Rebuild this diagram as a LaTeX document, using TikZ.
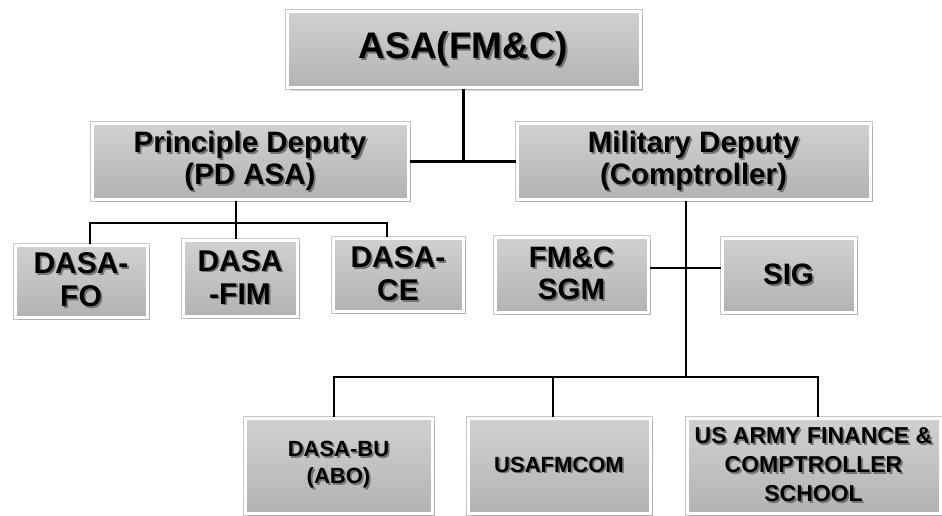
\documentclass[tikz,border=0pt]{standalone}
\usepackage{fontspec}
\setsansfont{Liberation Sans}
\usetikzlibrary{shadows, positioning}

% text with a soft offset shadow
\newcommand{\shdw}[1]{\leavevmode\rlap{\raisebox{-1.8pt}{\hspace{1.8pt}\textcolor{black!55}{#1}}}#1}

\begin{document}
\begin{tikzpicture}[x=1pt, y=-1pt,
      orgbox/.style={rectangle, draw=white, line width=3pt,
          preaction={draw=black!22, line width=5pt},
          top color=black!18, bottom color=black!30,
          drop shadow={shadow xshift=2.5pt, shadow yshift=-3pt, opacity=0.3},
          align=center, inner sep=0pt, text=black},
      topfont/.style={font=\sffamily\bfseries\fontsize{37}{40}\selectfont},
      deputyfont/.style={font=\sffamily\bfseries\fontsize{29.5}{32}\selectfont},
      dasafont/.style={font=\sffamily\bfseries\fontsize{30}{33}\selectfont},
      lowfont/.style={font=\sffamily\bfseries\fontsize{22}{27}\selectfont},
      link/.style={line width=2.2pt, black}]
    \useasboundingbox (0,0) rectangle (942,516);

    % top
    \node[orgbox, topfont, minimum width=353, minimum height=76] (asa)
      at (463.5,50) {\shdw{ASA(FM\&C)}};

    % deputies
    \node[orgbox, deputyfont, minimum width=316, minimum height=75] (pd)
      at (250,161.5) {\shdw{Principle Deputy}\\ \shdw{(PD ASA)}};
    \node[orgbox, deputyfont, minimum width=353, minimum height=75] (md)
      at (693.5,161.5) {\shdw{Military Deputy}\\ \shdw{(Comptroller)}};

    % under the principle deputy
    \node[orgbox, dasafont, minimum width=132, minimum height=72] (dfo)
      at (81,281) {\shdw{DASA-}\\ \shdw{FO}};
    \node[orgbox, dasafont, minimum width=114, minimum height=76] (dfim)
      at (240,278) {\shdw{DASA}\\ \shdw{-FIM}};
    \node[orgbox, dasafont, minimum width=130, minimum height=73] (dce)
      at (398,274.5) {\shdw{DASA-}\\ \shdw{CE}};

    % under the military deputy
    \node[orgbox, deputyfont, minimum width=153, minimum height=75] (sgm)
      at (571.5,274.5) {\shdw{FM\&C}\\ \shdw{SGM}};
    \node[orgbox, deputyfont, minimum width=133, minimum height=74] (sig)
      at (788.5,275) {\shdw{SIG}};

    \node[orgbox, lowfont, minimum width=187, minimum height=95] (dbu)
      at (338.5,465.5) {\shdw{DASA-BU}\\ \shdw{(ABO)}};
    \node[orgbox, lowfont, minimum width=182, minimum height=95] (usaf)
      at (559,465.5) {\shdw{USAFMCOM}};
    \node[orgbox, lowfont, font=\sffamily\bfseries\fontsize{23}{29}\selectfont,
          minimum width=253, minimum height=95] (school)
      at (813.5,465.5) {\shdw{US ARMY FINANCE \&}\\ \shdw{COMPTROLLER}\\ \shdw{SCHOOL}};

    % connectors
    \draw[link] (pd.east) -- (md.west);
    \draw[link] (asa.south) -- (asa.south |- pd.east);

    \coordinate (pdbus) at (236,223);
    \coordinate (pdbusl) at (90,223);
    \coordinate (pdbusr) at (387,223);
    \draw[link] (pdbus |- pd.south) -- (pdbus |- dfim.north);
    \draw[link] (pdbusl |- dfo.north) -- (pdbusl) -- (pdbusr) -- (pdbusr |- dce.north);

    \coordinate (mdmid) at (686,268);
    \coordinate (mdbus) at (686,377);
    \coordinate (mdbusl) at (334,377);
    \coordinate (mdbusm) at (553,377);
    \coordinate (mdbusr) at (818,377);
    \draw[link] (mdbus |- md.south) -- (mdbus);
    \draw[link] (sgm.east |- mdmid) -- (sig.west |- mdmid);
    \draw[link] (mdbusl |- dbu.north) -- (mdbusl) -- (mdbusr) -- (mdbusr |- school.north);
    \draw[link] (mdbusm) -- (mdbusm |- usaf.north);
  \end{tikzpicture}
\end{document}
